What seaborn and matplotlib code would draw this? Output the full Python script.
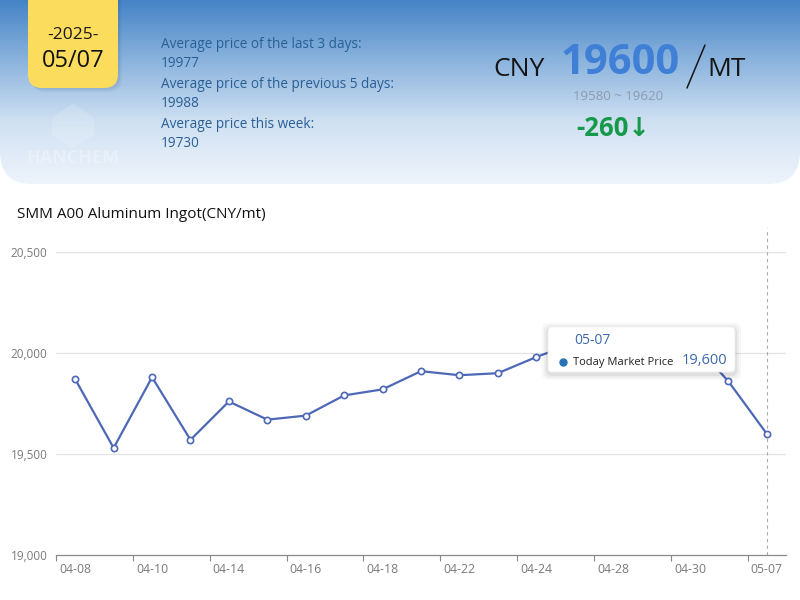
import numpy as np
import pandas as pd
import matplotlib
matplotlib.use('Agg')
import matplotlib.pyplot as plt
import seaborn as sns
from matplotlib.patches import FancyBboxPatch
from matplotlib.colors import LinearSegmentedColormap
from matplotlib.ticker import FuncFormatter, FixedLocator

# price series (CNY/mt), trading days only
dates = ['04-08', '04-09', '04-10', '04-11', '04-14', '04-15', '04-16', '04-17', '04-18',
         '04-21', '04-22', '04-23', '04-24', '04-25', '04-28', '04-29', '04-30', '05-06', '05-07']
prices = [19870, 19530, 19880, 19570, 19760, 19670, 19690, 19790, 19820,
          19910, 19890, 19900, 19980, 20050, 20060, 20080, 20070, 19860, 19600]
y_ticks = [19000, 19500, 20000, 20500]

summary_labels = ['Average price of the last 3 days:', 'Average price of the previous 5 days:',
                  'Average price this week:']
summary_values = ['19977', '19988', '19730']
today_price = 19600
price_range = '19580 ~ 19620'
change = -260

df = pd.DataFrame({'date': dates, 'price': prices, 'idx': range(len(dates))})

sns.set_theme(style='white')
plt.rcParams['font.family'] = ['Open Sans', 'DejaVu Sans']

fig = plt.figure(figsize=(8, 6), dpi=100)
fig.patch.set_facecolor('white')

# ---- header (pixel coordinates) ----
bg = fig.add_axes([0, 0, 1, 1], zorder=0)
bg.set_xlim(0, 800)
bg.set_ylim(600, 0)
bg.axis('off')

cmap = LinearSegmentedColormap.from_list('hdr', ['#4583c6', '#8cb4de', '#d0e1f2', '#eef4fb'])
grad = np.linspace(0, 1, 256)[:, None]
img = bg.imshow(grad, extent=(0, 800, 184, 0), cmap=cmap, aspect='auto', zorder=1)
clip = FancyBboxPatch((0, -60), 800, 244, boxstyle='round,pad=0,rounding_size=32',
                      transform=bg.transData, facecolor='none', edgecolor='none')
bg.add_patch(clip)
img.set_clip_path(clip)

# yellow date card
for off, a in [(4, 0.06), (2, 0.08)]:
    bg.add_patch(FancyBboxPatch((28 + off, -30 + off), 90, 118,
                                boxstyle='round,pad=0,rounding_size=14',
                                facecolor='#1d3f66', edgecolor='none', alpha=a, zorder=2))
bg.add_patch(FancyBboxPatch((28, -30), 90, 118, boxstyle='round,pad=0,rounding_size=14',
                            facecolor='#fcdc5c', edgecolor='none', zorder=3))
bg.text(73, 35, '-2025-', ha='center', va='center', fontsize=12.5, color='#1a1a1a', zorder=4)
bg.text(73, 61, '05/07', ha='center', va='center', fontsize=17, color='#111111',
        fontweight='medium', zorder=4)

# faint watermark
bg.add_patch(plt.Polygon([(52, 118), (73, 103), (94, 118), (94, 135), (73, 148), (52, 135)],
                         closed=True, facecolor='white', edgecolor='none', alpha=0.15, zorder=2))
bg.text(73, 158, 'HANCHEM', ha='center', va='center', fontsize=13, fontweight='bold',
        color='white', alpha=0.28, zorder=2)

# summary block
yy = 44
for lab, val in zip(summary_labels, summary_values):
    bg.text(161, yy, lab, ha='left', va='center', fontsize=9.8, color='#2a5f95', zorder=4)
    bg.text(161, yy + 19.5, val, ha='left', va='center', fontsize=9.8, color='#2a5f95', zorder=4)
    yy += 40

# big price
bg.text(519, 69, 'CNY', ha='center', va='center', fontsize=19, color='#151515', zorder=4)
bg.text(620, 64, f'{today_price}', ha='center', va='center', fontsize=30, fontweight='bold',
        color='#3f7fd6', zorder=4)
bg.plot([687, 705], [88, 45], color='#151515', lw=1.1, zorder=4)
bg.text(727, 69, 'MT', ha='center', va='center', fontsize=19, color='#151515', zorder=4)
bg.text(618, 96, price_range, ha='center', va='center', fontsize=9.5, color='#8e9cae', zorder=4)
bg.text(613, 128, f'{change}\u2193', ha='center', va='center', fontsize=18.5, fontweight='bold',
        color='#16994a', zorder=4)

# chart title
bg.text(17, 214, 'SMM A00 Aluminum Ingot(CNY/mt)', ha='left', va='center', fontsize=11,
        color='#111111', zorder=4)

# ---- chart ----
ax = fig.add_axes([56 / 800, 1 - 555 / 600, 730 / 800, 303 / 600], zorder=1)
ax.set_facecolor('none')
sns.lineplot(data=df, x='idx', y='price', ax=ax, color='#4e68b8', linewidth=1.6,
             marker='o', markersize=4.5, markerfacecolor='white', markeredgecolor='#4e68b8',
             markeredgewidth=1.2, zorder=3)
ax.set_xlim(-0.5, len(dates) - 0.5)
ax.set_ylim(y_ticks[0], y_ticks[-1])
ax.set_yticks(y_ticks)
ax.yaxis.set_major_formatter(FuncFormatter(lambda v, p: f'{int(v):,}'))
for t in y_ticks[1:]:
    ax.axhline(t, color='#e2e2e2', lw=0.9, zorder=1)
ax.set_xticks(range(0, len(dates), 2))
ax.set_xticklabels(dates[::2])
ax.xaxis.set_minor_locator(FixedLocator(np.arange(-0.5, len(dates) - 1, 2)))
ax.tick_params(axis='x', which='major', length=0, pad=6, labelsize=8.8, labelcolor='#7a7a7a')
ax.tick_params(axis='x', which='minor', length=4, width=0.8, color='#888888', bottom=True)
ax.tick_params(axis='y', length=0, pad=6, labelsize=8.5, labelcolor='#7a7a7a')
for s in ['top', 'right', 'left']:
    ax.spines[s].set_visible(False)
ax.spines['bottom'].set_color('#888888')
ax.spines['bottom'].set_linewidth(0.9)
ax.set_xlabel('')
ax.set_ylabel('')
ax.grid(False)
ax.axvline(len(dates) - 1, ymin=0, ymax=(555 - 228) / 303, color='#aaaaaa', lw=0.8,
           ls=(0, (3, 3)), clip_on=False, zorder=2)

# ---- tooltip overlay ----
top = fig.add_axes([0, 0, 1, 1], zorder=5)
top.set_xlim(0, 800)
top.set_ylim(600, 0)
top.axis('off')
for grow, a in [(6, 0.03), (4, 0.04), (2, 0.06)]:
    top.add_patch(FancyBboxPatch((548 - grow, 327 - grow + 2), 187 + 2 * grow, 45 + 2 * grow,
                                 boxstyle='round,pad=0,rounding_size=6', facecolor='#000000',
                                 edgecolor='none', alpha=a))
top.add_patch(FancyBboxPatch((548, 327), 187, 45, boxstyle='round,pad=0,rounding_size=4',
                             facecolor='white', edgecolor='#eeeeee', lw=0.6))
top.text(574, 341, dates[-1], ha='left', va='center', fontsize=10, color='#3b68ad')
top.plot([563], [362], 'o', color='#2a72b5', markersize=5)
top.text(573, 362, 'Today Market Price', ha='left', va='center', fontsize=8, color='#222222')
top.text(727, 361, f'{prices[-1]:,}', ha='right', va='center', fontsize=10.5, color='#3b68ad')

fig.savefig('out.png', dpi=100)
